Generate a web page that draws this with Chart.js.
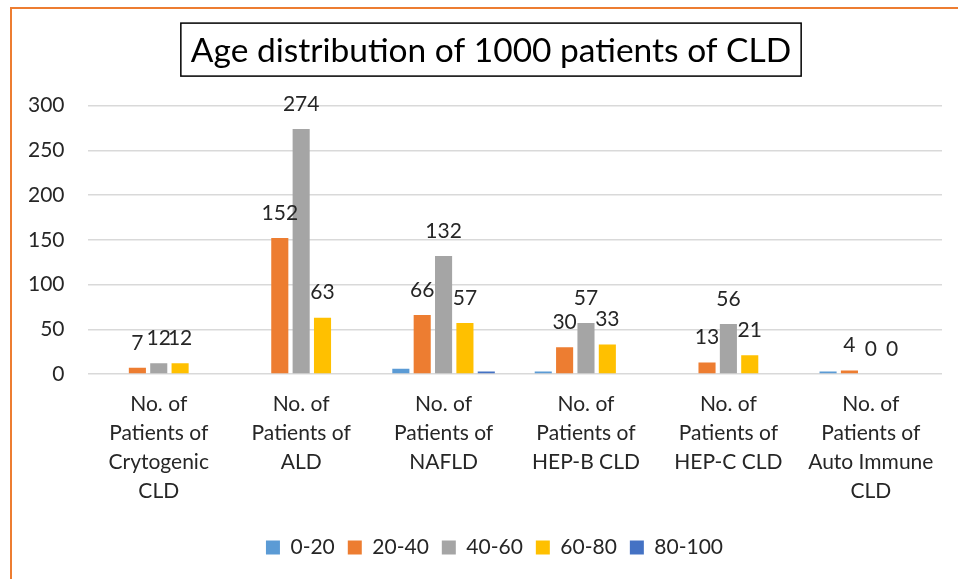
<!DOCTYPE html>
<html>
<head>
<meta charset="utf-8">
<script src="https://cdn.jsdelivr.net/npm/chart.js@4.4.1/dist/chart.umd.min.js"></script>
<style>
  html, body { margin: 0; padding: 0; background: #fff; }
  #wrap { position: relative; width: 958px; height: 579px; overflow: hidden; }
  #frame {
    position: absolute; left: 10px; top: 7px; right: 0; bottom: 0;
    border-left: 2px solid #ED7D31; border-top: 2px solid #ED7D31;
    pointer-events: none;
  }
</style>
</head>
<body>
<div id="wrap">
  <canvas id="chart" width="958" height="579"></canvas>
  <div id="frame"></div>
</div>
<script>
// data
const titleText = 'Age distribution of 1000 patients of CLD';
const categories = [
    ['No. of', 'Patients of', 'Crytogenic', 'CLD'],
    ['No. of', 'Patients of', 'ALD'],
    ['No. of', 'Patients of', 'NAFLD'],
    ['No. of', 'Patients of', 'HEP-B CLD'],
    ['No. of', 'Patients of', 'HEP-C CLD'],
    ['No. of', 'Patients of', 'Auto Immune', 'CLD']
];
const ageGroups = ['0-20', '20-40', '40-60', '60-80', '80-100'];
const age0to20   = [0, 0, 6, 3, 0, 3];
const age20to40  = [7, 152, 66, 30, 13, 4];
const age40to60  = [12, 274, 132, 57, 56, 0];
const age60to80  = [12, 63, 57, 33, 21, 0];
const age80to100 = [0, 1, 3, 0, 0, 0];
const yTicks = [0, 50, 100, 150, 200, 250, 300];

const colors = ['#5B9BD5', '#ED7D31', '#A5A5A5', '#FFC000', '#4472C4'];
const seriesData = [age0to20, age20to40, age40to60, age60to80, age80to100];
const labelledSeries = [false, true, true, true, false];

const fontFamily = 'Lato';
const textColor = '#262626';
const titleSize = 33.5;

Chart.defaults.font.family = fontFamily;
Chart.defaults.color = textColor;

// value labels above the bars (only for the labelled series)
const valueLabels = {
    id: 'valueLabels',
    afterDatasetsDraw(chart) {
        const ctx = chart.ctx;
        ctx.save();
        ctx.font = '21px ' + fontFamily;
        ctx.fillStyle = textColor;
        ctx.textAlign = 'center';
        ctx.textBaseline = 'middle';
        chart.data.datasets.forEach((ds, i) => {
            if (!labelledSeries[i]) return;
            chart.getDatasetMeta(i).data.forEach((bar, j) => {
                ctx.fillText(String(ds.data[j]), bar.x, bar.y - 25);
            });
        });
        ctx.restore();
    }
};

// box round the title, and nudge title / legend to where Excel put them
const titleBox = {
    id: 'titleBox',
    afterLayout(chart) {
        if (chart.titleBlock) chart.titleBlock.left += 35;
        if (chart.legend) chart.legend.left += 42;
    },
    afterDraw(chart) {
        const t = chart.titleBlock;
        const ctx = chart.ctx;
        ctx.save();
        ctx.font = titleSize + 'px ' + fontFamily;
        const w = ctx.measureText(titleText).width;
        const cx = (t.left + t.right) / 2;
        const cy = t.top + 31 + titleSize * 1.2 / 2;
        ctx.strokeStyle = '#000';
        ctx.lineWidth = 1.5;
        ctx.strokeRect(cx - w / 2 - 10, cy - 28, w + 20, 53);
        ctx.restore();
    }
};

new Chart(document.getElementById('chart'), {
    type: 'bar',
    data: {
        labels: categories,
        datasets: ageGroups.map((name, i) => ({
            label: name,
            data: seriesData[i],
            backgroundColor: colors[i],
            borderWidth: 0,
            barPercentage: 0.8,
            categoryPercentage: 0.75
        }))
    },
    options: {
        responsive: false,
        animation: false,
        layout: { padding: { left: 5, right: 16, top: 0, bottom: 11 } },
        plugins: {
            title: {
                display: true,
                text: titleText,
                color: '#000',
                font: { size: titleSize, weight: 'normal', lineHeight: 1.2 },
                padding: { top: 31, bottom: 34.5 }
            },
            legend: {
                position: 'bottom',
                labels: {
                    boxWidth: 14,
                    boxHeight: 14,
                    padding: 13,
                    font: { size: 21 }
                }
            },
            tooltip: { enabled: false }
        },
        scales: {
            x: {
                grid: { display: false },
                border: { display: false },
                ticks: {
                    autoSkip: false,
                    maxRotation: 0,
                    padding: 8,
                    font: { size: 21, lineHeight: 1.38 }
                },
                afterFit: (scale) => { scale.height += 10; }
            },
            y: {
                min: 0,
                max: 300,
                afterBuildTicks: (scale) => { scale.ticks = yTicks.map(v => ({ value: v })); },
                grid: { color: '#D9D9D9', lineWidth: 1.5, drawTicks: false },
                border: { display: false },
                ticks: { padding: 23, font: { size: 21 } }
            }
        }
    },
    plugins: [valueLabels, titleBox]
});
</script>
</body>
</html>
